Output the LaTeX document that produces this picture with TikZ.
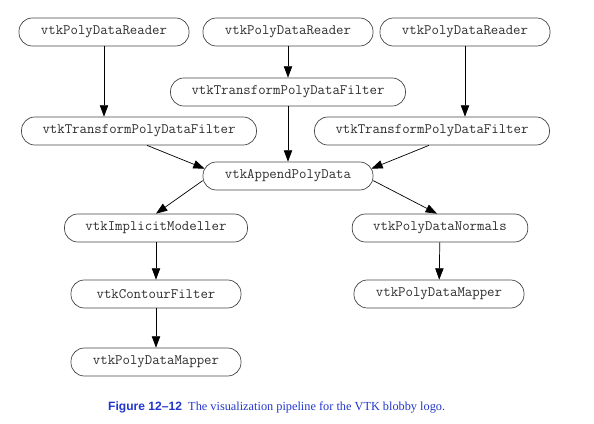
\documentclass[tikz,border=0pt]{standalone}
\usepackage{fontspec}
\usepackage{tikz}
\usetikzlibrary{positioning,calc}
\usetikzlibrary{arrows.meta}
\newfontfamily\capsans{Liberation Sans}
\newfontfamily\capserif{Liberation Serif}
\definecolor{EdgeGray}{RGB}{70,70,70}
\definecolor{TextGray}{RGB}{45,45,45}
\definecolor{CapBlue}{RGB}{35,55,205}
\tikzset{
  stage/.style={rectangle,draw=EdgeGray,line width=0.6pt,rounded corners=4mm,
    minimum height=8.4mm,minimum width=51mm,inner xsep=6.3mm,inner ysep=0pt,
    text=TextGray,font=\ttfamily\fontsize{12.3}{14}\selectfont},
  flow/.style={draw=black,line width=0.6pt,-{Triangle[length=3.4mm,width=2.5mm]}},
}
\tikzset{caphead/.style={text=CapBlue,font=\capsans\bfseries\fontsize{10.3}{12}\selectfont,inner sep=0pt,anchor=base west},
  captext/.style={text=CapBlue,font=\capserif\fontsize{10.5}{12}\selectfont,inner sep=0pt,anchor=base west}}

\begin{document}
\begin{tikzpicture}[x=0.3mm,y=-0.3mm]
\useasboundingbox (0,0) rectangle (594,424);
\node[stage](rdA) at (104,32){vtkPolyDataReader};\node[stage](rdB) at (288,32){vtkPolyDataReader};
\node[stage](rdC) at (465,32){vtkPolyDataReader};
\node[stage](tfB) at (288,92){vtkTransformPolyDataFilter};
\node[stage](tfA) at (139,131){vtkTransformPolyDataFilter};\node[stage](tfC) at (432,131){vtkTransformPolyDataFilter};
\node[stage](app) at (288,176){vtkAppendPolyData};
\node[stage](imp) at (156,228){vtkImplicitModeller};\node[stage](norm) at (440,228){vtkPolyDataNormals};
\node[stage](cont) at (156,294){vtkContourFilter};\node[stage](mapB) at (439,294){vtkPolyDataMapper};
\node[stage](mapA) at (156,362){vtkPolyDataMapper};
% readers into transforms
\draw[flow](rdA.south)--(rdA.south |- tfA.north);\draw[flow](rdB)--(tfB);
\draw[flow](rdC.south)--(rdC.south |- tfC.north);
% transforms into append
\draw[flow]([xshift=2.4mm]tfA.south)--([yshift=2.2mm,xshift=0.6mm]app.west);\draw[flow](tfB)--(app);
\draw[flow]([xshift=-0.9mm]tfC.south)--([yshift=2.2mm,xshift=-0.6mm]app.east);
% two branches
\draw[flow]([yshift=-1.4mm]app.west)--(imp.north);\draw[flow]([yshift=-1.4mm]app.east)--([xshift=-0.9mm]norm.north);
\draw[flow](imp)--(cont);\draw[flow](cont)--(mapA);\draw[flow](norm)--(mapB);
\node[caphead](fighd) at (108,410){Figure 12–12};
\node[captext](figtx) at (188,410){The visualization pipeline for the VTK blobby logo.};
\end{tikzpicture}
\end{document}
